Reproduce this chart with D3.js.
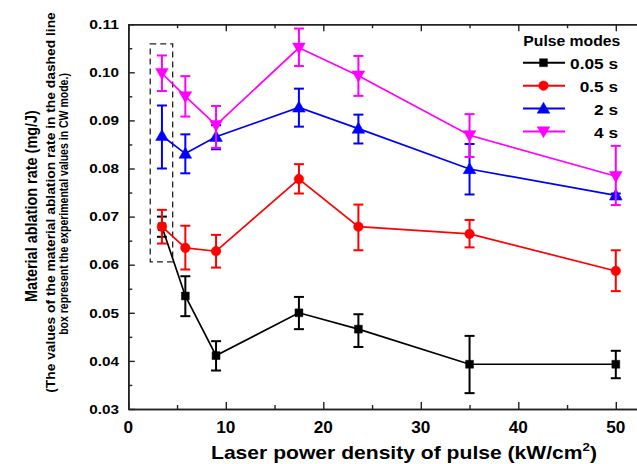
<!DOCTYPE html>
<html><head><meta charset="utf-8">
<script src="https://cdn.jsdelivr.net/npm/d3@7/dist/d3.min.js"></script>
<style>html,body{margin:0;padding:0;background:#fff;}svg{display:block;}</style>
</head><body>
<svg id="c" width="637" height="464"></svg>
<script>
// ---- data ----
const xValues = [3.45, 5.85, 9.0, 17.5, 23.6, 35, 50];
const seriesNames = ["0.05 s", "0.5 s", "2 s", "4 s"];
const seriesColors = ["#000000", "#ff0000", "#0000ff", "#ff00ff"];
const seriesSymbols = ["square", "circle", "triangle", "triangleDown"];
const v005 = [0.0679, 0.0535, 0.0411, 0.0500, 0.0466, 0.0393, 0.0393];
const hi005 = [0.0700, 0.0576, 0.0441, 0.0533, 0.0497, 0.0452, 0.0421];
const lo005 = [0.0658, 0.0493, 0.0380, 0.0466, 0.0429, 0.0333, 0.0364];
const v05 = [0.0679, 0.0635, 0.0628, 0.0778, 0.0679, 0.0664, 0.0587];
const hi05 = [0.0714, 0.0681, 0.0662, 0.0809, 0.0725, 0.0693, 0.0630];
const lo05 = [0.0644, 0.0590, 0.0594, 0.0748, 0.0630, 0.0636, 0.0545];
const v2 = [0.0868, 0.0831, 0.0866, 0.0927, 0.0883, 0.0799, 0.0744];
const hi2 = [0.0931, 0.0871, 0.0890, 0.0966, 0.0912, 0.0851, 0.0748];
const lo2 = [0.0800, 0.0790, 0.0840, 0.0887, 0.0852, 0.0746, 0.0740];
const v4 = [0.0998, 0.0950, 0.0890, 0.1051, 0.0993, 0.0869, 0.0784];
const hi4 = [0.1035, 0.0992, 0.0930, 0.1091, 0.1034, 0.0913, 0.0847];
const lo4 = [0.0961, 0.0908, 0.0843, 0.1013, 0.0951, 0.0824, 0.0724];
const xTicks = [0, 10, 20, 30, 40, 50];
const yTicks = [0.03, 0.04, 0.05, 0.06, 0.07, 0.08, 0.09, 0.10, 0.11];
const dashBox = [2.25, 4.55, 0.0606, 0.1059]; // x0, x1, y0, y1 (data units)
const xDomain = [0, 55];
const yDomain = [0.03, 0.11];

const seriesVals = [v005, v05, v2, v4];
const seriesHi = [hi005, hi05, hi2, hi4];
const seriesLo = [lo005, lo05, lo2, lo4];

// ---- layout ----
const FONT = "'Liberation Sans', Arial, Helvetica, sans-serif";
const svg = d3.select("#c");
const x = d3.scaleLinear().domain(xDomain).range([128.3, 128.3 + 55 * 9.75]);
const y = d3.scaleLinear().domain(yDomain).range([409, 24.2]);
const x0 = x.range()[0], yb = y.range()[0], yt = y.range()[1];
const axisColor = "#222";

function inwardAxis(gen, tr) {
  return svg.append("g").attr("transform", tr).call(gen)
    .call(g => g.select(".domain").attr("stroke", axisColor).attr("stroke-width", 1.6))
    .call(g => g.selectAll(".tick line").attr("stroke", axisColor).attr("stroke-width", 1.4))
    .call(g => g.selectAll(".tick text").remove());
}
const xMinor = d3.range(5, 56, 10);
const yMinor = d3.range(0.035, 0.11, 0.01);
inwardAxis(d3.axisBottom(x).tickValues(xTicks.concat([55])).tickSize(-7).tickSizeOuter(0), `translate(0,${yb})`);
inwardAxis(d3.axisBottom(x).tickValues(xMinor).tickSize(-4).tickSizeOuter(0), `translate(0,${yb})`);
inwardAxis(d3.axisTop(x).tickValues(xTicks).tickSize(-7).tickSizeOuter(0), `translate(0,${yt})`);
inwardAxis(d3.axisTop(x).tickValues(xMinor).tickSize(-4).tickSizeOuter(0), `translate(0,${yt})`);
inwardAxis(d3.axisLeft(y).tickValues(yTicks).tickSize(-6.5).tickSizeOuter(0), `translate(${x0},0)`);
inwardAxis(d3.axisLeft(y).tickValues(yMinor).tickSize(-4).tickSizeOuter(0), `translate(${x0},0)`);

function hText(px, py, str, size, anchor, sx) {
  const g = svg.append("g").attr("transform", `translate(${px},${py}) scale(${sx},1)`);
  return g.append("text").attr("x", 0).attr("y", 0).attr("text-anchor", anchor)
    .attr("font-family", FONT).attr("font-weight", "bold").attr("font-size", size).attr("fill", "#000").text(str);
}
function fitText(sel, target) {
  const w = sel.node().getComputedTextLength();
  const g = d3.select(sel.node().parentNode);
  g.attr("transform", g.attr("transform").replace(/scale\([^)]*\)/, `scale(${target / w},1)`));
}

yTicks.forEach(t => {
  const s = hText(119, y(t) + 4.7, d3.format(".2f")(t), 13, "end", 1);
  fitText(s, 29.7);
});
xTicks.forEach(t => {
  hText(x(t), 433.3, String(t), 17.2, "middle", 1);
});

{
  const g = svg.append("g").attr("transform", `translate(211,459.3) scale(1,1)`);
  const t = g.append("text").attr("font-family", FONT).attr("font-weight", "bold").attr("font-size", 17.6).attr("fill", "#000");
  t.append("tspan").text("Laser power density of pulse (kW/cm");
  t.append("tspan").attr("font-size", 11).attr("dy", -8).text("2");
  t.append("tspan").attr("dy", 8).text(")");
  const w = t.node().getBBox().width;
  g.attr("transform", `translate(211,459.3) scale(${386 / w},1)`);
}

function vText(bx, cy, str, size, sLen, sThick) {
  const g = svg.append("g").attr("transform", `translate(${bx},${cy}) rotate(-90)`);
  const t = g.append("text").attr("text-anchor", "middle").attr("font-family", FONT)
    .attr("font-weight", "bold").attr("font-size", size).attr("fill", "#000").text(str);
  g.attr("transform", `translate(${bx},${cy}) rotate(-90) scale(${sLen},${sThick})`);
  return t;
}
function naturalLen(str, size) {
  const t = svg.append("text").attr("font-family", FONT).attr("font-weight", "bold").attr("font-size", size).text(str);
  const w = t.node().getComputedTextLength();
  t.remove();
  return w;
}
const mainTitle = "Material ablation rate (mg/J)";
const subLine1 = "(The values of the material ablation rate in the dashed line";
const subLine2 = "box represent the experimental values in CW mode.)";
vText(36.5, 206, mainTitle, 14.5, 192 / naturalLen(mainTitle, 14.5), 1.2);
vText(54.5, 202.5, subLine1, 11.5, 381 / naturalLen(subLine1, 11.5), 1.1);
vText(67.5, 204, subLine2, 11.5, 262 / naturalLen(subLine2, 11.5), 1.1);

svg.append("rect")
  .attr("x", x(dashBox[0])).attr("y", y(dashBox[3]))
  .attr("width", x(dashBox[1]) - x(dashBox[0])).attr("height", y(dashBox[2]) - y(dashBox[3]))
  .attr("fill", "none").attr("stroke", "#222").attr("stroke-width", 1.3).attr("stroke-dasharray", "6,4");

function symbolPath(kind) {
  if (kind === "square") return d3.symbol().type(d3.symbolSquare).size(62)();
  if (kind === "circle") return d3.symbol().type(d3.symbolCircle).size(72)();
  return d3.symbol().type(d3.symbolTriangle).size(70)();
}
function symbolTransform(kind, px, py) {
  if (kind === "triangle") return `translate(${px},${py + 1})`;
  if (kind === "triangleDown") return `translate(${px},${py - 1}) rotate(180)`;
  return `translate(${px},${py})`;
}

const line = d3.line().x((d, i) => x(xValues[i])).y(d => y(d));
seriesVals.forEach((vals, si) => {
  const col = seriesColors[si];
  const g = svg.append("g");
  xValues.forEach((xv, i) => {
    const px = x(xv);
    g.append("line").attr("x1", px).attr("x2", px).attr("y1", y(seriesHi[si][i])).attr("y2", y(seriesLo[si][i]))
      .attr("stroke", col).attr("stroke-width", 2);
    [seriesHi[si][i], seriesLo[si][i]].forEach(v => {
      g.append("line").attr("x1", px - 5).attr("x2", px + 5).attr("y1", y(v)).attr("y2", y(v))
        .attr("stroke", col).attr("stroke-width", 2);
    });
  });
  g.append("path").attr("d", line(vals)).attr("fill", "none").attr("stroke", col).attr("stroke-width", 1.7);
  vals.forEach((v, i) => {
    g.append("path").attr("d", symbolPath(seriesSymbols[si]))
      .attr("transform", symbolTransform(seriesSymbols[si], x(xValues[i]), y(v)))
      .attr("fill", col).attr("stroke", col).attr("stroke-width", 0.5);
  });
});

{
  const t = hText(523.3, 46, "Pulse modes", 15, "start", 1);
  fitText(t, 97);
  const rows = [62.7, 85.7, 108.5, 131.5];
  seriesNames.forEach((name, si) => {
    const ly = rows[si];
    svg.append("line").attr("x1", 523).attr("x2", 565).attr("y1", ly).attr("y2", ly)
      .attr("stroke", seriesColors[si]).attr("stroke-width", 2);
    svg.append("path").attr("d", symbolPath(seriesSymbols[si]))
      .attr("transform", symbolTransform(seriesSymbols[si], 543.5, ly))
      .attr("fill", seriesColors[si]).attr("stroke", seriesColors[si]).attr("stroke-width", 0.5);
    hText(618, ly + 6.3, name, 15, "end", 1.15);
  });
}
</script>
</body></html>
